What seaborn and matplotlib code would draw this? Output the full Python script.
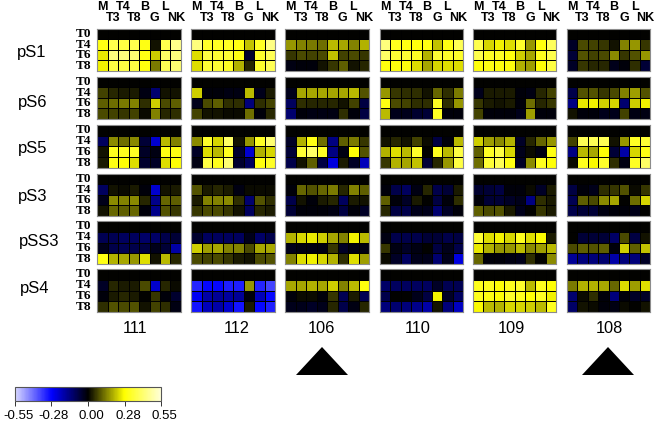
import numpy as np
import pandas as pd
import matplotlib
matplotlib.use('Agg')
import matplotlib.pyplot as plt
import matplotlib.transforms as mtrans
import seaborn as sns
from matplotlib.colors import LinearSegmentedColormap

cell_types = ['M', 'T3', 'T4', 'T8', 'B', 'G', 'L', 'NK']
times = ['T0', 'T4', 'T6', 'T8']
patients = ['111', '112', '106', '110', '109', '108']
markers = ['pS1', 'pS6', 'pS5', 'pS3', 'pSS3', 'pS4']
cbar_ticks = [-0.55, -0.28, 0.00, 0.28, 0.55]

# valeurs, en centiemes, lignes T4 / T6 / T8 (T0 vaut toujours 0)
t0_row = [0, 0, 0, 0, 0, 0, 0, 0]

ps1_111 = [[30, 37, 36, 37, 30, 2, 37, 45], [25, 43, 43, 42, 30, 22, 40, 43], [26, 36, 36, 36, 29, 13, 38, 42]]
ps1_112 = [[43, 33, 32, 32, 30, 21, 32, 44], [24, 36, 34, 34, 30, -5, 33, 38], [24, 34, 34, 32, 19, 4, 33, 38]]
ps1_106 = [[16, 14, 13, 12, 20, 18, 14, 19], [6, 8, 7, 8, 21, 7, 8, 6], [-2, -1, -1, 2, 6, 10, 2, 4]]
ps1_110 = [[43, 31, 30, 29, 30, 21, 30, 38], [40, 34, 34, 32, 19, 34, 33, 33], [29, 29, 29, 24, 18, 23, 24, 24]]
ps1_109 = [[37, 23, 26, 24, 33, 16, 29, 39], [37, 32, 32, 29, 22, 18, 31, 37], [29, 30, 29, 29, 19, 17, 28, 36]]
ps1_108 = [[-4, 8, 7, 6, 2, 14, 16, 6], [-6, 9, 7, 8, 15, 6, 9, 16], [-4, 6, 4, 4, -3, -1, 5, -6]]

ps6_111 = [[7, 4, 3, 3, -2, -12, 2, 2], [10, 12, 13, 14, 5, 22, 8, 10], [8, 7, 6, 7, 1, 14, 4, 5]]
ps6_112 = [[22, -1, -1, -2, -2, 20, -3, 3], [-3, 8, 10, 5, 5, -13, 5, 7], [7, 2, 2, 1, 1, 12, -1, 4]]
ps6_106 = [[-3, 18, 18, 18, 18, 18, 20, 9], [-10, 5, 4, 4, 4, 2, 7, -7], [-12, -1, -2, -2, -2, 5, -1, -7]]
ps6_110 = [[16, 6, 5, 5, 2, 11, 5, 13], [30, 8, 7, 5, 5, 32, 5, 16], [20, -3, -3, -5, -6, 32, -1, -1]]
ps6_109 = [[-3, 3, 3, 3, -1, -2, 4, 7], [6, 3, 2, 3, -1, 12, 4, 6], [7, -1, -1, -1, -3, 17, -1, -1]]
ps6_108 = [[-8, 9, 9, 6, 8, 14, 17, 9], [-14, 25, 26, 22, 23, -12, 22, 26], [2, -1, -1, -3, -3, 7, -2, -2]]

ps5_111 = [[-10, 15, 12, 15, -6, -22, 20, 14], [2, 31, 31, 32, -4, -2, 30, 30], [3, 30, 28, 24, -5, -4, 24, 28]]
ps5_112 = [[15, 33, 23, 40, 2, 16, 32, 42], [-4, 24, 20, 31, -5, -22, 19, 23], [-2, 36, 31, 42, -5, -10, 29, 32]]
ps5_106 = [[-4, 19, 30, 12, -14, 10, 13, 6], [-6, 34, 40, 32, -14, -2, 28, 9], [-8, 2, 10, -7, -24, 3, -4, -20]]
ps5_110 = [[2, 4, 2, 7, 1, -7, -1, 20], [19, 24, 20, 33, 0, 31, 20, 36], [6, 19, 18, 21, -6, 4, 16, 36]]
ps5_109 = [[22, 17, 15, 19, -4, 4, 11, 16], [10, 32, 36, 23, -3, 1, -2, 30], [12, 34, 38, 30, -4, 15, 31, 28]]
ps5_108 = [[7, 38, 38, 38, 2, 16, 32, 34], [-14, 20, 18, 28, -6, -18, 23, 30], [1, 31, 27, 33, 5, -2, 32, 40]]

ps3_111 = [[-10, 2, 1, 3, -1, -22, 2, 3], [-3, 15, 14, 15, 4, -15, 11, 10], [2, 11, 10, 11, -1, -15, 9, 6]]
ps3_112 = [[9, 3, 4, 3, -2, 1, 1, 1], [3, 14, 14, 15, 5, -12, 9, 5], [6, 8, 8, 6, 2, -10, 4, 3]]
ps3_106 = [[-1, 11, 9, 11, 13, 4, 14, 10], [-8, 2, -1, 3, 4, -10, 3, 2], [-6, -1, -1, -1, -2, -7, -1, -4]]
ps3_110 = [[-1, -8, -10, -2, 4, -8, -6, 3], [10, -1, -4, 3, 0, -7, -1, 5], [4, -7, -8, -3, -3, -12, -4, -1]]
ps3_109 = [[-5, -6, -7, -1, -1, 1, -4, 3], [-1, -6, -6, -4, -3, -14, 5, 3], [10, 8, 9, 3, -3, 0, 6, 3]]
ps3_108 = [[-7, -1, -3, 5, 6, 9, 1, 6], [-9, 10, 8, 15, 18, 0, 12, 23], [-8, -6, -6, -2, -1, -1, -3, 0]]

pss3_111 = [[-9, -9, -10, -10, -11, -11, -8, -6], [-3, -8, -9, -8, -7, -3, -6, -18], [30, 19, 18, 16, 24, 2, 20, 4]]
pss3_112 = [[-5, -10, -10, -10, -10, -3, -11, -8], [22, 17, 18, 14, 14, 8, 18, 18], [8, 7, 8, 6, 3, 2, 8, 9]]
pss3_106 = [[19, 23, 25, 22, 18, 14, 26, 20], [-3, -2, -2, -2, 6, -4, -2, -2], [14, 24, 26, 23, 19, 5, 24, 17]]
pss3_110 = [[-2, -8, -8, -8, -6, -6, -8, -7], [6, -2, -4, -2, 0, -7, -3, -8], [1, -4, -10, -3, -3, -12, -3, -24]]
pss3_109 = [[34, 24, 26, 23, 31, 24, 27, 3], [25, 19, 16, 16, 20, 15, 17, 20], [11, -1, -1, -2, -3, 5, 0, 15]]
pss3_108 = [[0, -6, -6, -6, -11, 8, -7, 2], [8, 10, 9, 10, -1, 22, 10, 21], [-16, -13, -13, -12, -18, -13, -13, -4]]

ps4_111 = [[-4, 4, 3, 3, 8, -22, 4, 1], [-1, 3, 4, 3, 0, 6, -1, -5], [5, 9, 8, 9, 2, 7, 5, -2]]
ps4_112 = [[-32, -28, -28, -31, -31, 16, -32, -36], [-26, -18, -16, -17, -16, -1, -20, -28], [-30, -20, -18, -22, -30, 3, -28, -31]]
ps4_106 = [[18, 18, 19, 18, 22, 14, 20, 29], [-1, 1, 1, -1, 6, -9, 3, -9], [-3, -3, -4, -3, 4, -8, -2, 4]]
ps4_110 = [[-11, -10, -10, -10, -10, -4, -9, -9], [-8, 0, 0, -3, -7, 26, -4, -10], [-13, -12, -13, -15, -18, 2, -13, -21]]
ps4_109 = [[31, 31, 28, 31, 33, 20, 31, 28], [31, 30, 28, 33, 31, 28, 32, 26], [27, 20, 19, 23, 23, 22, 20, 31]]
ps4_108 = [[13, 19, 19, 18, 11, 24, 17, 24], [-12, 1, 5, -1, -13, -1, -4, -4], [-11, 2, 1, -1, -2, 1, 0, 2]]

grid = [
    [ps1_111, ps1_112, ps1_106, ps1_110, ps1_109, ps1_108],
    [ps6_111, ps6_112, ps6_106, ps6_110, ps6_109, ps6_108],
    [ps5_111, ps5_112, ps5_106, ps5_110, ps5_109, ps5_108],
    [ps3_111, ps3_112, ps3_106, ps3_110, ps3_109, ps3_108],
    [pss3_111, pss3_112, pss3_106, pss3_110, pss3_109, pss3_108],
    [ps4_111, ps4_112, ps4_106, ps4_110, ps4_109, ps4_108],
]

sns.set_theme(style='white')
plt.rcParams['font.family'] = ['Liberation Sans', 'DejaVu Sans']

W, H = 656, 423
fig = plt.figure(figsize=(W / 100, H / 100), dpi=100)

# passage pixels -> coordonnees figure
def px_axes(x0, y0, x1, y1):
    return fig.add_axes([x0 / W, 1 - y1 / H, (x1 - x0) / W, (y1 - y0) / H])

def px_text(x, y, s, **kw):
    fig.text(x / W, 1 - y / H, s, va='center', **kw)

col_x = [(97, 181), (191, 275), (285, 369), (380, 463), (473, 556), (567, 650)]
row_y = [(29, 71), (77, 119), (125, 168), (174, 216), (221, 264), (269, 312)]
marker_x = [17, 18, 18, 18, 19, 20]
marker_y = [52, 103, 148, 196, 241, 289]
number_x = [135, 237, 321, 418, 511, 609]

cmap = LinearSegmentedColormap.from_list(
    'bky', [(0, '#d8d8ff'), (0.25, '#0000ff'), (0.5, '#000000'), (0.75, '#ffff00'), (1, '#ffffd8')])

cax = px_axes(15, 387, 161, 401)
cbar = None

for r, marker in enumerate(markers):
    for c, patient in enumerate(patients):
        x0, x1 = col_x[c]
        y0, y1 = row_y[r]
        ax = px_axes(x0, y0, x1, y1)
        df = pd.DataFrame([t0_row] + grid[r][c], index=times, columns=cell_types) / 100
        first = r == 0 and c == 0
        sns.heatmap(df, ax=ax, cmap=cmap, vmin=-0.55, vmax=0.55,
                    linewidths=0.4, linecolor='black',
                    cbar=first, cbar_ax=cax if first else None,
                    cbar_kws={'orientation': 'horizontal', 'ticks': cbar_ticks} if first else None,
                    xticklabels=r == 0, yticklabels=c == 0)
        if first:
            cbar = ax.collections[0].colorbar
        ax.set_xlabel('')
        ax.set_ylabel('')
        for sp in ax.spines.values():
            sp.set_visible(True)
            sp.set_color('#8c8c8c')
            sp.set_linewidth(0.8)
        if c == 0:
            ax.tick_params(axis='y', length=0, pad=4, rotation=0)
            for lab in ax.get_yticklabels():
                lab.set_fontfamily('Liberation Serif')
                lab.set_fontweight('bold')
                lab.set_fontsize(9.5)
                lab.set_color('black')
        if r == 0:
            ax.xaxis.tick_top()
            ax.tick_params(axis='x', length=0, rotation=0)
            for i, tick in enumerate(ax.xaxis.get_major_ticks()):
                tick.set_pad(11.5 if i % 2 == 0 else 3.6)
                tick.label2.set_fontfamily('Liberation Sans')
                tick.label2.set_fontweight('bold')
                tick.label2.set_fontsize(9)
                tick.label2.set_color('black')
    px_text(marker_x[r], marker_y[r], marker, fontsize=12, color='black')

for c, patient in enumerate(patients):
    px_text(number_x[c], 328.5, patient, fontsize=11.8, color='black', ha='center')

# barre de couleur
cbar.outline.set_edgecolor('#555555')
cbar.outline.set_linewidth(0.8)
cbar.set_ticks(cbar_ticks)
cbar.set_ticklabels(['%.2f' % t for t in cbar_ticks])
cbar.ax.tick_params(axis='x', length=3.5, width=0.7, color='#333333', pad=3, labelsize=9.5, labelcolor='black', bottom=True)
# les etiquettes sont un peu decalees a droite des graduations
shift = mtrans.ScaledTranslation(3 / 100, 0, fig.dpi_scale_trans)
for lab in cbar.ax.get_xticklabels():
    lab.set_transform(lab.get_transform() + shift)

# triangles sous les patients 106 et 108
over = fig.add_axes([0, 0, 1, 1], facecolor='none')
over.set_xlim(0, W)
over.set_ylim(H, 0)
over.axis('off')
for apex in [322, 608]:
    over.fill([apex - 26, apex, apex + 26], [375, 347, 375], color='black', lw=0)

fig.savefig('out.png', dpi=100)
